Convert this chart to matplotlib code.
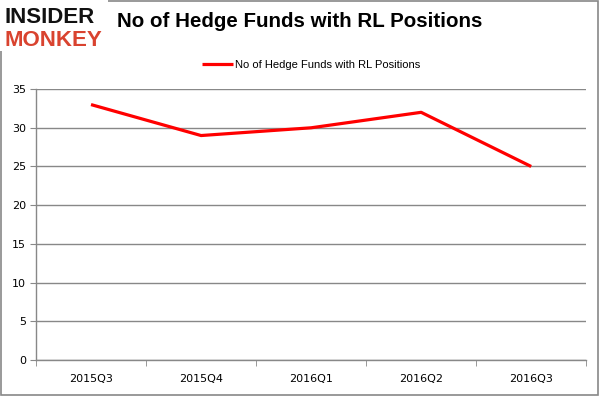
import matplotlib
matplotlib.use('Agg')
import matplotlib.pyplot as plt
from matplotlib.patches import Rectangle
import numpy as np

quarters = ["2015Q3", "2015Q4", "2016Q1", "2016Q2", "2016Q3"]
funds = [33, 29, 30, 32, 25]
series_name = "No of Hedge Funds with RL Positions"
title = "No of Hedge Funds with RL Positions"

fig = plt.figure(figsize=(6, 3.96), dpi=100)
ax = fig.add_axes([0.06, 0.091, 0.917, 0.684])

x = np.arange(len(quarters))
ax.plot(x, funds, color='#ff0000', linewidth=2.3, label=series_name, solid_capstyle='butt')

ax.set_xlim(-0.5, len(quarters) - 0.5)
ax.set_ylim(0, 35)
ax.set_yticks(np.arange(0, 36, 5))
ax.set_xticks(x)
ax.set_xticklabels(quarters)
ax.set_xticks(np.arange(-0.5, len(quarters), 1), minor=True)
ax.tick_params(axis='x', which='major', length=0, pad=10, labelsize=8)
ax.tick_params(axis='x', which='minor', length=4, color='#888888', direction='out')
ax.tick_params(axis='y', length=4, color='#888888', labelsize=8, pad=3)
for lbl in ax.get_xticklabels() + ax.get_yticklabels():
    lbl.set_family('DejaVu Sans')

ax.grid(axis='y', color='#888888', linewidth=1)
ax.set_axisbelow(True)
for s in ['top', 'right']:
    ax.spines[s].set_visible(False)
for s in ['left', 'bottom']:
    ax.spines[s].set_color('#888888')
    ax.spines[s].set_linewidth(1)

leg = ax.legend(loc='center', bbox_to_anchor=(0.5, 1.09), frameon=False,
                prop={'family': 'Liberation Sans', 'size': 8},
                handlelength=2.8, handletextpad=0.2)

fig.text(0.5, 0.945, title, ha='center', va='center', fontsize=14.8,
         fontweight='bold', family='Liberation Sans')

# outer frame
fig.patches.append(Rectangle((0.002, 0.002), 0.994, 0.996, transform=fig.transFigure,
                             fill=False, edgecolor='#888888', linewidth=1.2))

# logo
fig.patches.append(Rectangle((0, 0.87), 0.18, 0.13, transform=fig.transFigure,
                             facecolor='white', edgecolor='none', zorder=5))
fig.text(0.008, 0.955, "INSIDER", ha='left', va='center', fontsize=16,
         fontweight='bold', family='Liberation Sans', color='#111111', zorder=6)
fig.text(0.008, 0.898, "MONKEY", ha='left', va='center', fontsize=16,
         fontweight='bold', family='Liberation Sans', color='#d9432f', zorder=6)

fig.savefig('out.png', dpi=100)
